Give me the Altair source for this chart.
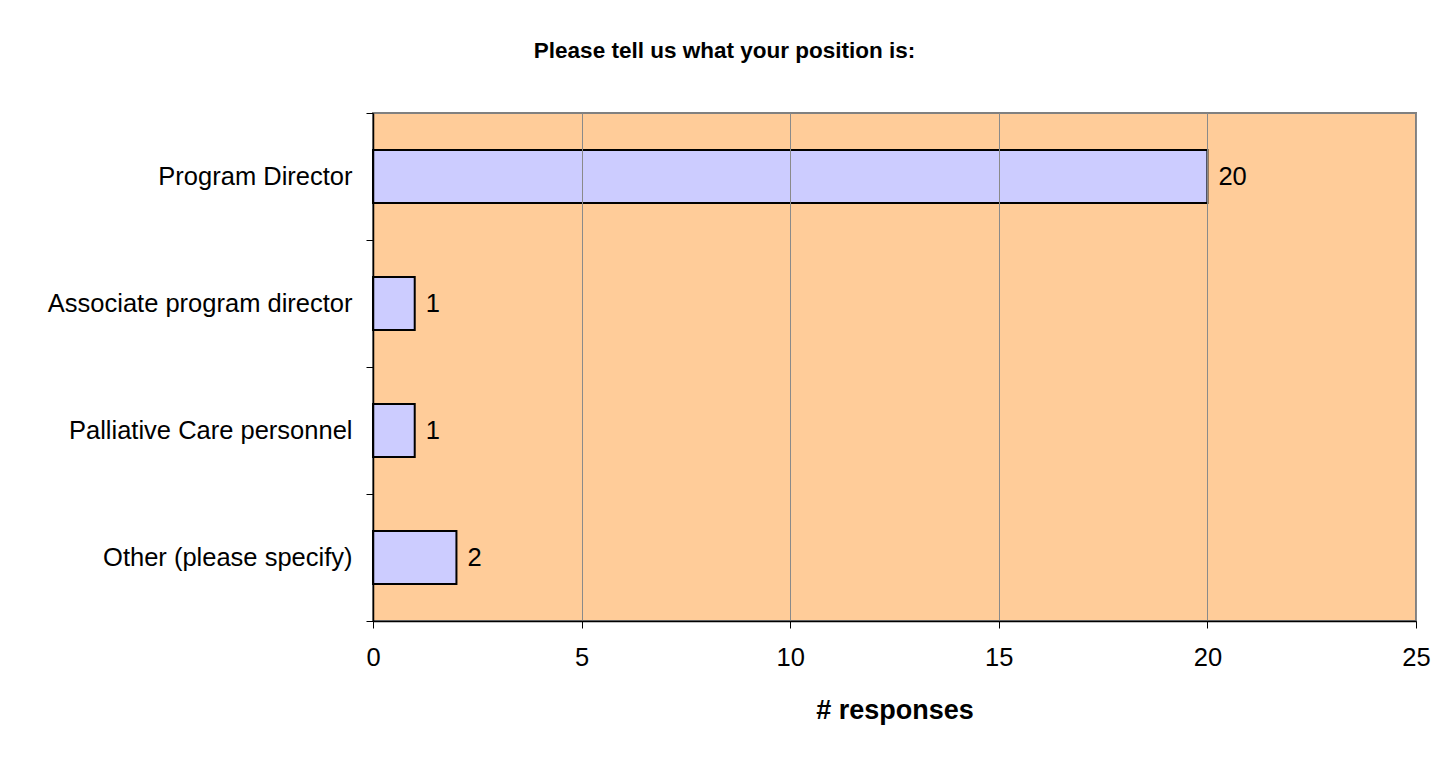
import altair as alt
import pandas as pd

categories = ["Program Director", "Associate program director", "Palliative Care personnel", "Other (please specify)"]
responses = [20, 1, 1, 2]
x_ticks = [0, 5, 10, 15, 20, 25]

df = pd.DataFrame({"position": categories, "responses": responses})

FONT = "Liberation Sans"

base = alt.Chart(df).encode(
    y=alt.Y(
        "position:N",
        sort=categories,
        title=None,
        scale=alt.Scale(paddingInner=0, paddingOuter=0),
        axis=alt.Axis(
            tickBand="extent",
            tickSize=7,
            tickColor="black",
            domainColor="black",
            domainWidth=1.5,
            labelFontSize=25.5,
            labelFont=FONT,
            labelColor="black",
            labelPadding=14,
            labelLimit=500,
            grid=False,
            zindex=1,
        ),
    ),
)

bars = base.mark_bar(
    height=alt.RelativeBandSize(0.417),
    fill="#CCCCFF",
    stroke="black",
    strokeWidth=2,
).encode(
    x=alt.X(
        "responses:Q",
        title="# responses",
        scale=alt.Scale(domain=[0, 25], nice=False),
        axis=alt.Axis(
            values=x_ticks,
            tickSize=7,
            tickColor="black",
            domainColor="black",
            domainWidth=1.5,
            grid=True,
            gridColor="#8a8a8a",
            gridWidth=1,
            labelFontSize=25.5,
            labelFont=FONT,
            labelColor="black",
            labelPadding=17,
            labelFlush=False,
            titleFontSize=27,
            titleFont=FONT,
            titleFontWeight="bold",
            titleColor="black",
            titlePadding=27,
            zindex=1,
        ),
    ),
)

labels = base.mark_text(
    align="left",
    baseline="middle",
    dx=11,
    fontSize=25.5,
    font=FONT,
    color="black",
).encode(
    x="responses:Q",
    text="responses:Q",
)

chart = (
    (bars + labels)
    .properties(
        width=1043,
        height=508,
        title=alt.TitleParams(
            "Please tell us what your position is:",
            font=FONT,
            fontSize=22.5,
            fontWeight="bold",
            color="black",
            anchor="middle",
            dx=-170,
            offset=21,
            baseline="alphabetic",
            frame="group",
        ),
        autosize=alt.AutoSizeParams(type="none"),
        padding={"left": 365, "top": 105, "right": 24, "bottom": 120},
        background="white",
    )
    .configure_view(fill="#FFCC99", stroke="#808080", strokeWidth=2)
)

chart.save("out.html", embed_options={"renderer": "svg", "actions": False})
